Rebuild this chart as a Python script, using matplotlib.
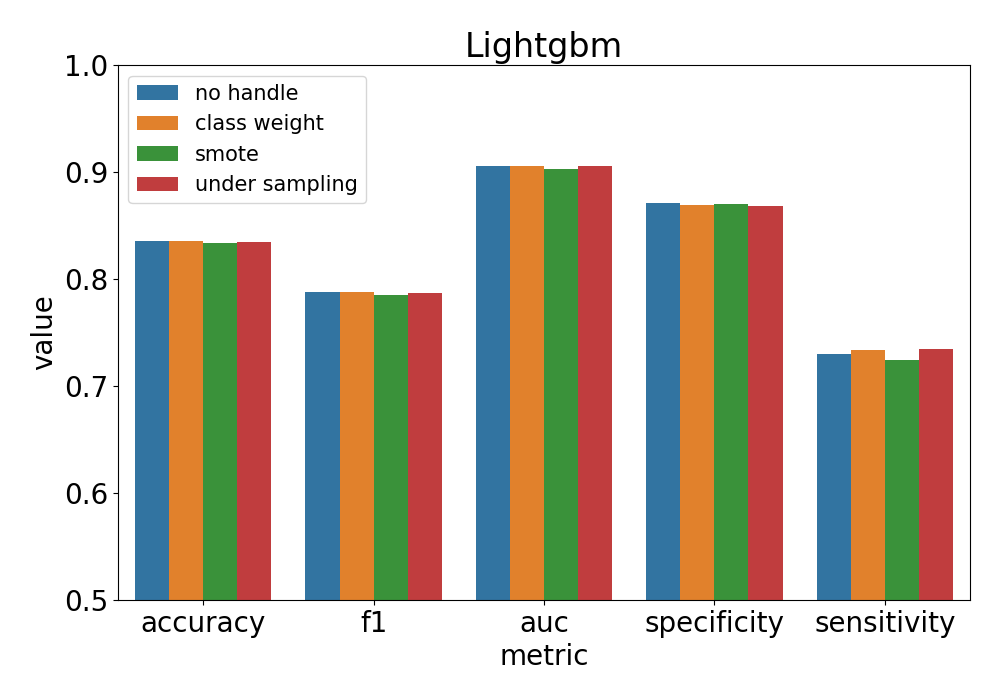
import pandas as pd
import matplotlib
matplotlib.use('Agg')
import matplotlib.pyplot as plt
import seaborn as sns

metrics = ['accuracy', 'f1', 'auc', 'specificity', 'sensitivity']
methods = ['no handle', 'class weight', 'smote', 'under sampling']
no_handle = [0.836, 0.788, 0.906, 0.871, 0.730]
class_weight = [0.836, 0.788, 0.906, 0.869, 0.734]
smote = [0.834, 0.785, 0.903, 0.870, 0.724]
under_sampling = [0.835, 0.787, 0.906, 0.868, 0.735]


def main():
    rows = []
    for name, vals in zip(methods, [no_handle, class_weight, smote, under_sampling]):
        for m, v in zip(metrics, vals):
            rows.append({'metric': m, 'value': v, 'method': name})
    df = pd.DataFrame(rows)

    fig = plt.figure(figsize=(10, 7), dpi=100)
    ax = fig.add_axes([0.118, 0.143, 0.852, 0.764])
    sns.barplot(data=df, x='metric', y='value', hue='method', ax=ax, saturation=0.75)
    ax.set_ylim(0.5, 1.0)
    ax.set_title('Lightgbm', fontsize=24)
    ax.set_xlabel('metric', fontsize=20)
    ax.set_ylabel('value', fontsize=20)
    ax.tick_params(labelsize=20)
    ax.legend(title=None, fontsize=15, loc='upper left')
    fig.savefig('out.png')


if __name__ == '__main__':
    main()
